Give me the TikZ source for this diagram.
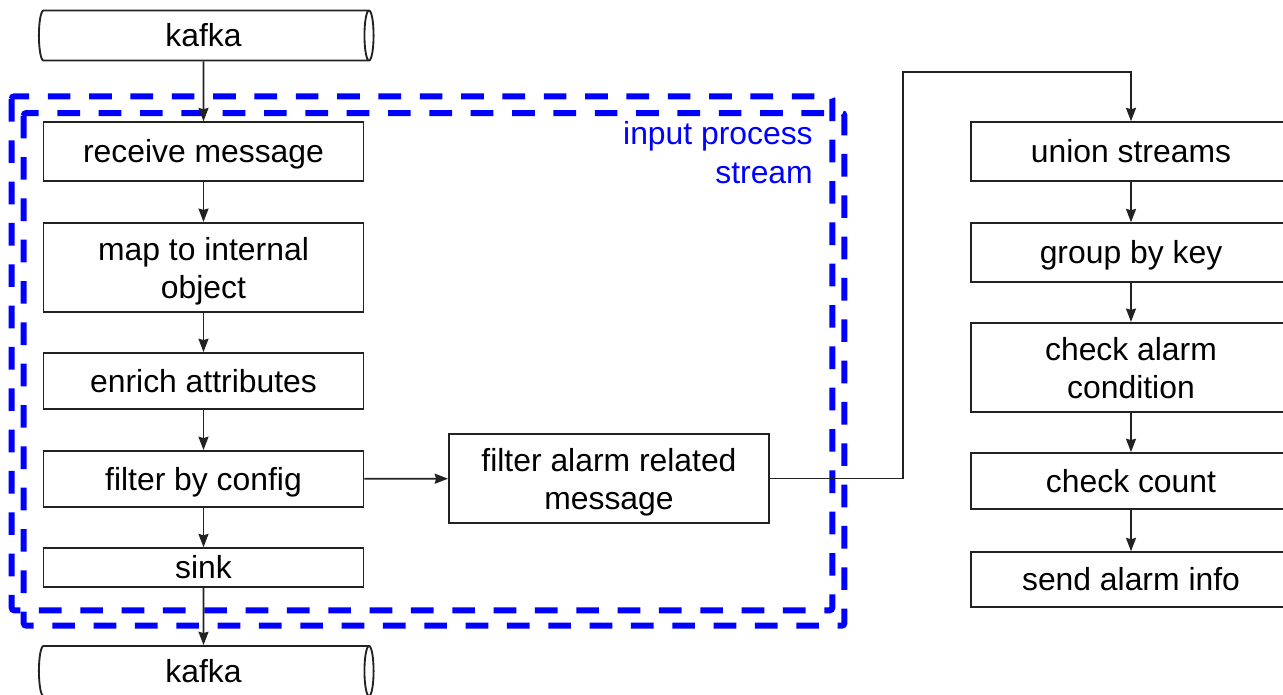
\documentclass[tikz,border=0pt]{standalone}
\usepackage{fontspec}
\setmainfont{Liberation Sans}
\usepackage{xcolor}
\usepackage{tikz}
\usetikzlibrary{shapes.geometric,arrows.meta}
\definecolor{ink}{HTML}{222222}
\definecolor{grpblue}{HTML}{0000FF}
\tikzset{
  stage/.style={draw=ink, line width=1.4pt, fill=white, minimum width=240pt, inner sep=0pt, align=center,
    text height=20pt, text depth=2.8pt, font=\fontsize{23.9}{28.5}\selectfont},
  stagetwo/.style={stage, minimum height=67pt, text height=48.6pt, text depth=2.8pt},
  queue/.style={cylinder, draw=ink, line width=1.4pt, aspect=0.3, minimum height=251pt, minimum width=37.5pt, inner sep=0pt,
    text height=20pt, text depth=2.8pt, font=\fontsize{23.9}{28.5}\selectfont},
  flow/.style={draw=ink, line width=1.3pt, -{Stealth[length=10pt,width=7.5pt,inset=1pt]}},
  grp/.style={draw=grpblue, line width=4.5pt, dash pattern=on 17pt off 14pt, rounded corners=2pt},
  grplab/.style={text=grpblue, align=right, inner sep=0pt, font=\fontsize{23.9}{29}\selectfont},
}

\begin{document}
\begin{tikzpicture}[x=0.75pt, y=-0.75pt]
  \useasboundingbox (0,0) rectangle (1283,694);
  % input process stream group
  \draw[grp] (11.7,96.3) rectangle (832.3,610.3);
  \draw[grp] (23.7,113) rectangle (844.4,625.7);
  \node[grplab, anchor=east] (grplab) at (813,152.5) {input process\\stream};
  % left column
  \node[queue] (kin) at (203.5,35.5) {kafka};
  \node[stage, minimum height=44pt] (recv) at (203.5,151.5) {receive message};
  \node[stagetwo] (map) at (203.5,267.5) {map to internal\\object};
  \node[stage, minimum height=42pt] (enrich) at (203.5,381) {enrich attributes};
  \node[stage, minimum height=42pt] (fcfg) at (203.5,479) {filter by config};
  \node[stage, minimum height=29pt] (sink) at (203.5,567.5) {sink};
  \node[queue] (kout) at (203.5,671) {kafka};
  \node[stagetwo] (falarm) at (609,478.5) {filter alarm related\\message};
  % right column
  \node[stage, minimum height=44pt] (union) at (1131,151.5) {union streams};
  \node[stage, minimum height=44pt] (group) at (1131,252.5) {group by key};
  \node[stagetwo] (cond) at (1131,367.5) {check alarm\\condition};
  \node[stage, minimum height=42pt] (count) at (1131,481) {check count};
  \node[stage, minimum height=41pt] (send) at (1131,579.5) {send alarm info};
  \coordinate (turn) at (903,72);
  % connectors
  \draw[flow] (kin) -- (recv);
  \draw[flow] (recv) -- (map);
  \draw[flow] (map) -- (enrich);
  \draw[flow] (enrich) -- (fcfg);
  \draw[flow] (fcfg) -- (sink);
  \draw[flow] (sink) -- (kout);
  \draw[flow] (fcfg) -- (falarm);
  \draw[flow] (falarm.east) -| (turn) -| (union.north);
  \draw[flow] (union) -- (group);
  \draw[flow] (group) -- (cond);
  \draw[flow] (cond) -- (count);
  \draw[flow] (count) -- (send);
\end{tikzpicture}
\end{document}
